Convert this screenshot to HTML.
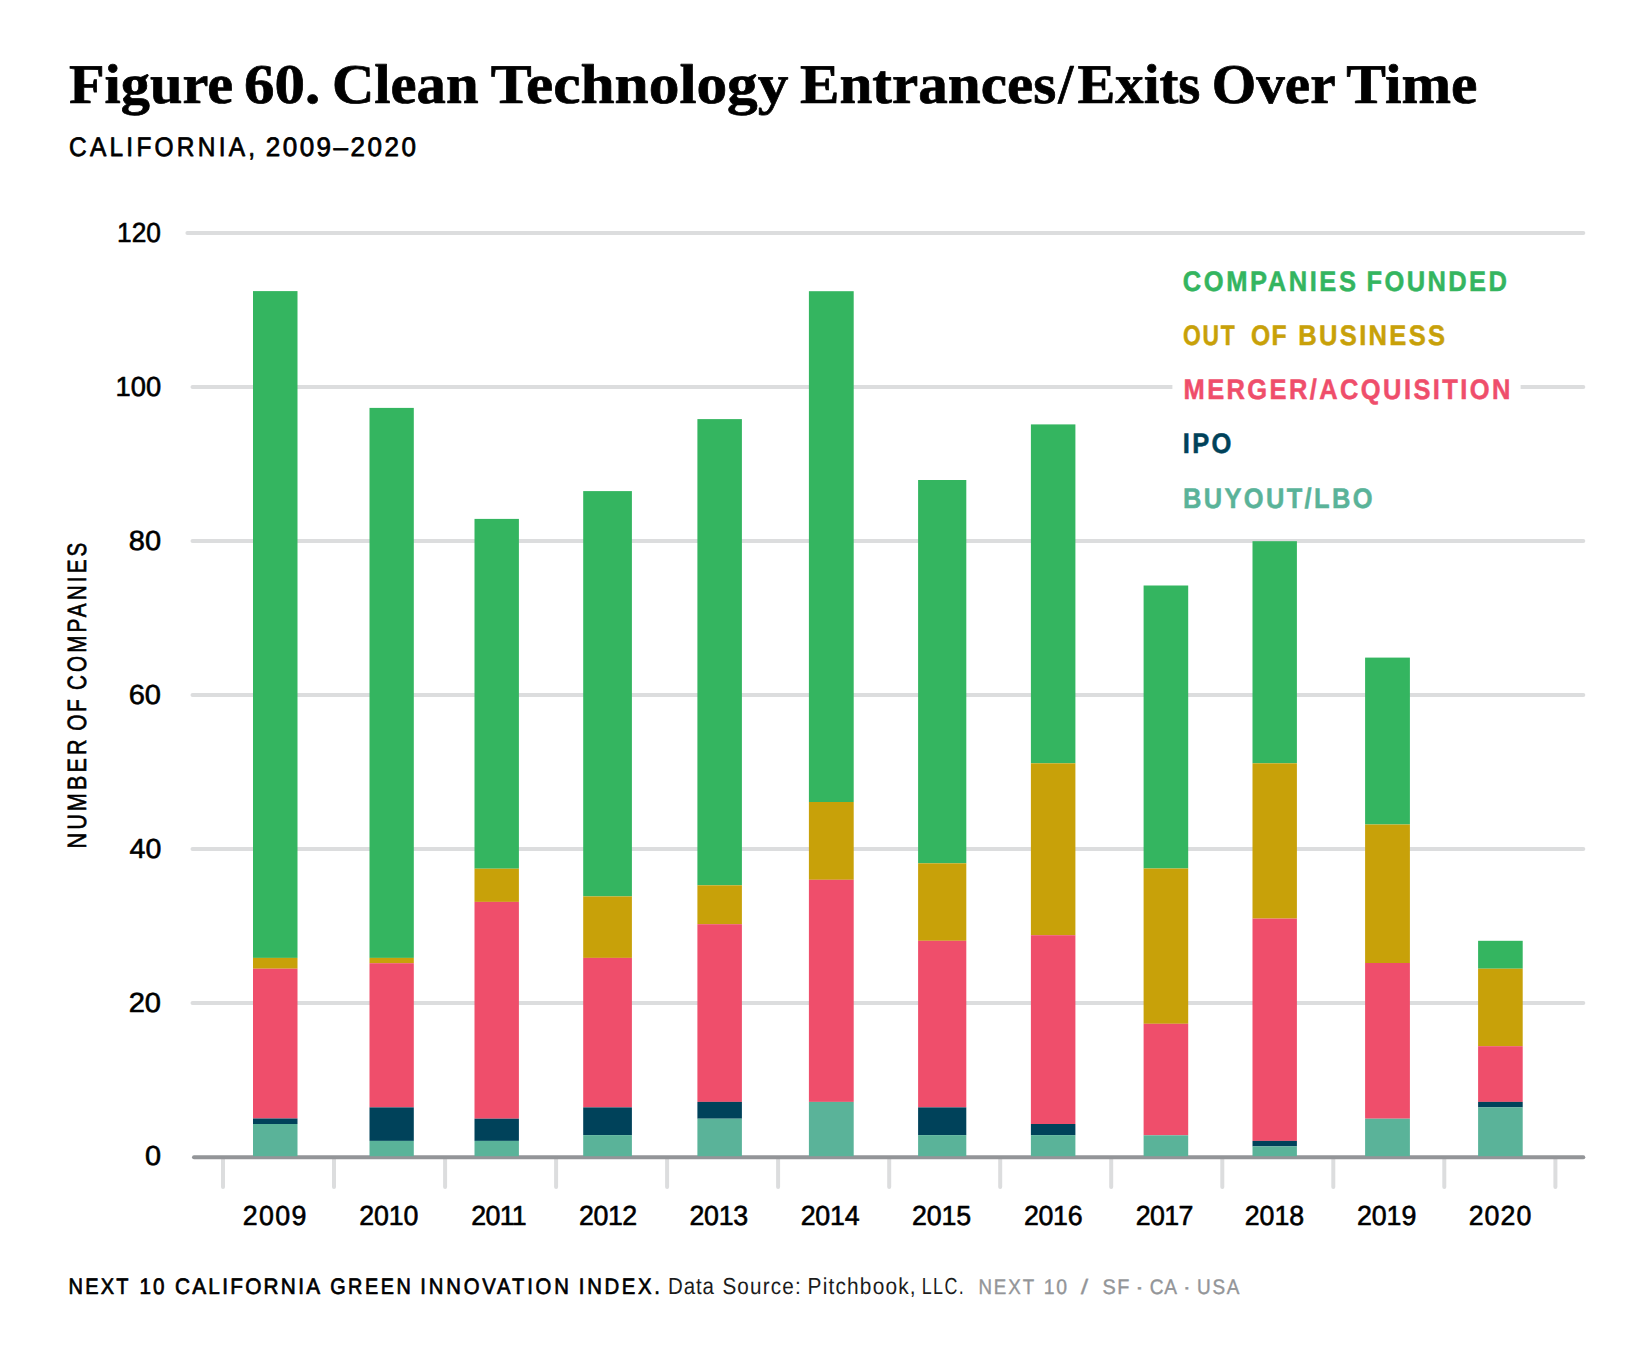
<!DOCTYPE html>
<html lang="en"><head><meta charset="utf-8"><title>Figure 60. Clean Technology Entrances/Exits Over Time</title>
<style>html,body{margin:0;padding:0;background:#fff}body{width:1651px;height:1351px;overflow:hidden}svg{display:block}text{white-space:pre;text-rendering:geometricPrecision}</style></head><body>
<svg width="1651" height="1351" viewBox="0 0 1651 1351">
<rect width="1651" height="1351" fill="#fff"/>
<g stroke="#dcddde" stroke-width="4" stroke-linecap="round" fill="none">
<line x1="187.4" y1="233.0" x2="1583.3" y2="233.0"/>
<line x1="192.5" y1="387.0" x2="1583.3" y2="387.0"/>
<line x1="192.5" y1="541.0" x2="1583.3" y2="541.0"/>
<line x1="192.5" y1="695.0" x2="1583.3" y2="695.0"/>
<line x1="192.5" y1="849.0" x2="1583.3" y2="849.0"/>
<line x1="192.5" y1="1003.0" x2="1583.3" y2="1003.0"/>
<line x1="223.0" y1="1158" x2="223.0" y2="1187"/>
<line x1="334.0" y1="1158" x2="334.0" y2="1187"/>
<line x1="445.1" y1="1158" x2="445.1" y2="1187"/>
<line x1="556.1" y1="1158" x2="556.1" y2="1187"/>
<line x1="667.1" y1="1158" x2="667.1" y2="1187"/>
<line x1="778.1" y1="1158" x2="778.1" y2="1187"/>
<line x1="889.2" y1="1158" x2="889.2" y2="1187"/>
<line x1="1000.2" y1="1158" x2="1000.2" y2="1187"/>
<line x1="1111.2" y1="1158" x2="1111.2" y2="1187"/>
<line x1="1222.3" y1="1158" x2="1222.3" y2="1187"/>
<line x1="1333.3" y1="1158" x2="1333.3" y2="1187"/>
<line x1="1444.3" y1="1158" x2="1444.3" y2="1187"/>
<line x1="1555.4" y1="1158" x2="1555.4" y2="1187"/>
</g>
<rect x="1172.4" y="380" width="348.2" height="14" fill="#fff"/>
<line x1="194" y1="1157.2" x2="1583.3" y2="1157.2" stroke="#939598" stroke-width="4" stroke-linecap="round"/>
<rect x="253.0" y="291.1" width="44.5" height="666.8" fill="#34b560"/>
<rect x="253.0" y="957.9" width="44.5" height="10.8" fill="#c8a109"/>
<rect x="253.0" y="968.7" width="44.5" height="149.8" fill="#ef4e6b"/>
<rect x="253.0" y="1118.5" width="44.5" height="5.5" fill="#00425a"/>
<rect x="253.0" y="1124.0" width="44.5" height="32.2" fill="#5ab399"/>
<rect x="369.5" y="407.9" width="44.3" height="550.0" fill="#34b560"/>
<rect x="369.5" y="957.9" width="44.3" height="5.3" fill="#c8a109"/>
<rect x="369.5" y="963.2" width="44.3" height="144.2" fill="#ef4e6b"/>
<rect x="369.5" y="1107.4" width="44.3" height="33.5" fill="#00425a"/>
<rect x="369.5" y="1140.9" width="44.3" height="15.3" fill="#5ab399"/>
<rect x="474.5" y="518.9" width="44.4" height="349.8" fill="#34b560"/>
<rect x="474.5" y="868.7" width="44.4" height="33.2" fill="#c8a109"/>
<rect x="474.5" y="901.9" width="44.4" height="216.8" fill="#ef4e6b"/>
<rect x="474.5" y="1118.7" width="44.4" height="22.2" fill="#00425a"/>
<rect x="474.5" y="1140.9" width="44.4" height="15.3" fill="#5ab399"/>
<rect x="583.2" y="491.1" width="48.7" height="405.3" fill="#34b560"/>
<rect x="583.2" y="896.4" width="48.7" height="61.5" fill="#c8a109"/>
<rect x="583.2" y="957.9" width="48.7" height="149.5" fill="#ef4e6b"/>
<rect x="583.2" y="1107.4" width="48.7" height="27.7" fill="#00425a"/>
<rect x="583.2" y="1135.1" width="48.7" height="21.1" fill="#5ab399"/>
<rect x="697.4" y="419.1" width="44.5" height="466.2" fill="#34b560"/>
<rect x="697.4" y="885.3" width="44.5" height="38.9" fill="#c8a109"/>
<rect x="697.4" y="924.2" width="44.5" height="177.7" fill="#ef4e6b"/>
<rect x="697.4" y="1101.9" width="44.5" height="16.8" fill="#00425a"/>
<rect x="697.4" y="1118.7" width="44.5" height="37.5" fill="#5ab399"/>
<rect x="808.9" y="291.2" width="44.8" height="510.8" fill="#34b560"/>
<rect x="808.9" y="802.0" width="44.8" height="77.8" fill="#c8a109"/>
<rect x="808.9" y="879.8" width="44.8" height="222.1" fill="#ef4e6b"/>
<rect x="808.9" y="1101.9" width="44.8" height="54.3" fill="#5ab399"/>
<rect x="918.1" y="480.0" width="48.2" height="383.3" fill="#34b560"/>
<rect x="918.1" y="863.3" width="48.2" height="77.5" fill="#c8a109"/>
<rect x="918.1" y="940.8" width="48.2" height="166.6" fill="#ef4e6b"/>
<rect x="918.1" y="1107.4" width="48.2" height="27.7" fill="#00425a"/>
<rect x="918.1" y="1135.1" width="48.2" height="21.1" fill="#5ab399"/>
<rect x="1030.9" y="424.4" width="44.5" height="338.9" fill="#34b560"/>
<rect x="1030.9" y="763.3" width="44.5" height="171.9" fill="#c8a109"/>
<rect x="1030.9" y="935.2" width="44.5" height="188.8" fill="#ef4e6b"/>
<rect x="1030.9" y="1124.0" width="44.5" height="11.1" fill="#00425a"/>
<rect x="1030.9" y="1135.1" width="44.5" height="21.1" fill="#5ab399"/>
<rect x="1143.6" y="585.5" width="44.6" height="283.0" fill="#34b560"/>
<rect x="1143.6" y="868.5" width="44.6" height="155.3" fill="#c8a109"/>
<rect x="1143.6" y="1023.8" width="44.6" height="111.5" fill="#ef4e6b"/>
<rect x="1143.6" y="1135.3" width="44.6" height="20.9" fill="#5ab399"/>
<rect x="1252.5" y="541.2" width="44.4" height="222.1" fill="#34b560"/>
<rect x="1252.5" y="763.3" width="44.4" height="155.3" fill="#c8a109"/>
<rect x="1252.5" y="918.6" width="44.4" height="222.3" fill="#ef4e6b"/>
<rect x="1252.5" y="1140.9" width="44.4" height="5.5" fill="#00425a"/>
<rect x="1252.5" y="1146.4" width="44.4" height="9.8" fill="#5ab399"/>
<rect x="1365.1" y="657.6" width="44.8" height="166.9" fill="#34b560"/>
<rect x="1365.1" y="824.5" width="44.8" height="138.5" fill="#c8a109"/>
<rect x="1365.1" y="963.0" width="44.8" height="155.7" fill="#ef4e6b"/>
<rect x="1365.1" y="1118.7" width="44.8" height="37.5" fill="#5ab399"/>
<rect x="1478.1" y="940.8" width="44.6" height="27.9" fill="#34b560"/>
<rect x="1478.1" y="968.7" width="44.6" height="77.5" fill="#c8a109"/>
<rect x="1478.1" y="1046.2" width="44.6" height="55.7" fill="#ef4e6b"/>
<rect x="1478.1" y="1101.9" width="44.6" height="5.5" fill="#00425a"/>
<rect x="1478.1" y="1107.4" width="44.6" height="48.8" fill="#5ab399"/>
<text id="t1" font-family='"Liberation Serif", serif' font-size="56" font-weight="bold" fill="#000" stroke="#000" stroke-width="0.7" stroke-linejoin="round" textLength="164.25" lengthAdjust="spacingAndGlyphs" transform="translate(68.89 102.60)">Figure</text>
<text id="t2" font-family='"Liberation Serif", serif' font-size="56" font-weight="bold" fill="#000" stroke="#000" stroke-width="0.7" stroke-linejoin="round" textLength="76.24" lengthAdjust="spacingAndGlyphs" transform="translate(244.11 102.60)">60.</text>
<text id="t3" font-family='"Liberation Serif", serif' font-size="56" font-weight="bold" fill="#000" stroke="#000" stroke-width="0.7" stroke-linejoin="round" textLength="146.69" lengthAdjust="spacingAndGlyphs" transform="translate(331.88 102.60)">Clean</text>
<text id="t4" font-family='"Liberation Serif", serif' font-size="56" font-weight="bold" fill="#000" stroke="#000" stroke-width="0.7" stroke-linejoin="round" textLength="297.76" lengthAdjust="spacingAndGlyphs" transform="translate(490.73 102.60)">Technology</text>
<text font-family='"Liberation Serif", serif' font-size="56" font-weight="bold" fill="#000" stroke="#000" stroke-width="0.7" stroke-linejoin="round" y="102.60"><tspan id="t5" x="800.05" textLength="256.12" lengthAdjust="spacingAndGlyphs">Entrances</tspan><tspan id="t5b" x="1058.31" textLength="15.03" lengthAdjust="spacingAndGlyphs">/</tspan><tspan id="t5c" x="1077.58" textLength="122.77" lengthAdjust="spacingAndGlyphs">Exits</tspan></text>
<text id="t6" font-family='"Liberation Serif", serif' font-size="56" font-weight="bold" fill="#000" stroke="#000" stroke-width="0.7" stroke-linejoin="round" textLength="123.90" lengthAdjust="spacingAndGlyphs" transform="translate(1211.72 102.60)">Over</text>
<text id="t7" font-family='"Liberation Serif", serif' font-size="56" font-weight="bold" fill="#000" stroke="#000" stroke-width="0.7" stroke-linejoin="round" textLength="131.09" lengthAdjust="spacingAndGlyphs" transform="translate(1346.29 102.60)">Time</text>
<text id="s1" font-family='"Liberation Sans", sans-serif' font-size="26.8" font-weight="normal" fill="#000" stroke="#000" stroke-width="0.75" stroke-linejoin="round" textLength="203.72" lengthAdjust="spacing" transform="translate(69.05 156.30) scale(0.913 1)">CALIFORNIA,</text>
<text id="s2" font-family='"Liberation Sans", sans-serif' font-size="26.8" font-weight="normal" fill="#000" stroke="#000" stroke-width="0.75" stroke-linejoin="round" textLength="154.74" lengthAdjust="spacing" transform="translate(265.69 156.30) scale(0.971 1)">2009–2020</text>
<text id="y0" font-family='"Liberation Sans", sans-serif' font-size="27.6" font-weight="normal" fill="#000" stroke="#000" stroke-width="0.6" stroke-linejoin="round" textLength="43.89" lengthAdjust="spacingAndGlyphs" transform="translate(117.12 241.90)">120</text>
<text id="y1" font-family='"Liberation Sans", sans-serif' font-size="27.6" font-weight="normal" fill="#000" stroke="#000" stroke-width="0.6" stroke-linejoin="round" textLength="45.61" lengthAdjust="spacingAndGlyphs" transform="translate(115.61 395.90)">100</text>
<text id="y2" font-family='"Liberation Sans", sans-serif' font-size="27.6" font-weight="normal" fill="#000" stroke="#000" stroke-width="0.6" stroke-linejoin="round" textLength="32.30" lengthAdjust="spacingAndGlyphs" transform="translate(128.80 549.90)">80</text>
<text id="y3" font-family='"Liberation Sans", sans-serif' font-size="27.6" font-weight="normal" fill="#000" stroke="#000" stroke-width="0.6" stroke-linejoin="round" textLength="32.31" lengthAdjust="spacingAndGlyphs" transform="translate(128.69 703.90)">60</text>
<text id="y4" font-family='"Liberation Sans", sans-serif' font-size="27.6" font-weight="normal" fill="#000" stroke="#000" stroke-width="0.6" stroke-linejoin="round" textLength="31.73" lengthAdjust="spacingAndGlyphs" transform="translate(129.54 857.90)">40</text>
<text id="y5" font-family='"Liberation Sans", sans-serif' font-size="27.6" font-weight="normal" fill="#000" stroke="#000" stroke-width="0.6" stroke-linejoin="round" textLength="32.36" lengthAdjust="spacingAndGlyphs" transform="translate(128.70 1011.90)">20</text>
<text id="y6" font-family='"Liberation Sans", sans-serif' font-size="27.6" font-weight="normal" fill="#000" stroke="#000" stroke-width="0.6" stroke-linejoin="round" textLength="16.06" lengthAdjust="spacingAndGlyphs" transform="translate(145.04 1165.40)">0</text>
<text id="x0" font-family='"Liberation Sans", sans-serif' font-size="27.6" font-weight="normal" fill="#000" stroke="#000" stroke-width="0.6" stroke-linejoin="round" textLength="65.70" lengthAdjust="spacing" transform="translate(242.70 1225.20) scale(0.970 1)">2009</text>
<text id="x1" font-family='"Liberation Sans", sans-serif' font-size="27.6" font-weight="normal" fill="#000" stroke="#000" stroke-width="0.6" stroke-linejoin="round" textLength="61.11" lengthAdjust="spacing" transform="translate(359.17 1225.20) scale(0.970 1)">2010</text>
<text id="x2" font-family='"Liberation Sans", sans-serif' font-size="27.6" font-weight="normal" fill="#000" stroke="#000" stroke-width="0.6" stroke-linejoin="round" textLength="57.12" lengthAdjust="spacing" transform="translate(471.35 1225.20) scale(0.970 1)">2011</text>
<text id="x3" font-family='"Liberation Sans", sans-serif' font-size="27.6" font-weight="normal" fill="#000" stroke="#000" stroke-width="0.6" stroke-linejoin="round" textLength="60.16" lengthAdjust="spacing" transform="translate(578.92 1225.20) scale(0.970 1)">2012</text>
<text id="x4" font-family='"Liberation Sans", sans-serif' font-size="27.6" font-weight="normal" fill="#000" stroke="#000" stroke-width="0.6" stroke-linejoin="round" textLength="60.66" lengthAdjust="spacing" transform="translate(689.42 1225.20) scale(0.970 1)">2013</text>
<text id="x5" font-family='"Liberation Sans", sans-serif' font-size="27.6" font-weight="normal" fill="#000" stroke="#000" stroke-width="0.6" stroke-linejoin="round" textLength="60.76" lengthAdjust="spacing" transform="translate(800.70 1225.20) scale(0.970 1)">2014</text>
<text id="x6" font-family='"Liberation Sans", sans-serif' font-size="27.6" font-weight="normal" fill="#000" stroke="#000" stroke-width="0.6" stroke-linejoin="round" textLength="61.14" lengthAdjust="spacing" transform="translate(911.92 1225.20) scale(0.970 1)">2015</text>
<text id="x7" font-family='"Liberation Sans", sans-serif' font-size="27.6" font-weight="normal" fill="#000" stroke="#000" stroke-width="0.6" stroke-linejoin="round" textLength="60.48" lengthAdjust="spacing" transform="translate(1023.92 1225.20) scale(0.970 1)">2016</text>
<text id="x8" font-family='"Liberation Sans", sans-serif' font-size="27.6" font-weight="normal" fill="#000" stroke="#000" stroke-width="0.6" stroke-linejoin="round" textLength="59.45" lengthAdjust="spacing" transform="translate(1135.70 1225.20) scale(0.970 1)">2017</text>
<text id="x9" font-family='"Liberation Sans", sans-serif' font-size="27.6" font-weight="normal" fill="#000" stroke="#000" stroke-width="0.6" stroke-linejoin="round" textLength="61.47" lengthAdjust="spacing" transform="translate(1244.63 1225.20) scale(0.970 1)">2018</text>
<text id="x10" font-family='"Liberation Sans", sans-serif' font-size="27.6" font-weight="normal" fill="#000" stroke="#000" stroke-width="0.6" stroke-linejoin="round" textLength="61.17" lengthAdjust="spacing" transform="translate(1356.98 1225.20) scale(0.970 1)">2019</text>
<text id="x11" font-family='"Liberation Sans", sans-serif' font-size="27.6" font-weight="normal" fill="#000" stroke="#000" stroke-width="0.6" stroke-linejoin="round" textLength="64.61" lengthAdjust="spacing" transform="translate(1468.63 1225.20) scale(0.970 1)">2020</text>
<text id="l1a" font-family='"Liberation Sans", sans-serif' font-size="28.3" font-weight="bold" fill="#34b560" stroke="#34b560" stroke-width="0.5" stroke-linejoin="round" textLength="192.14" lengthAdjust="spacing" transform="translate(1182.83 290.80) scale(0.901 1)">COMPANIES</text>
<text id="l1b" font-family='"Liberation Sans", sans-serif' font-size="28.3" font-weight="bold" fill="#34b560" stroke="#34b560" stroke-width="0.5" stroke-linejoin="round" textLength="155.91" lengthAdjust="spacing" transform="translate(1366.56 290.80) scale(0.900 1)">FOUNDED</text>
<text id="l2a" font-family='"Liberation Sans", sans-serif' font-size="28.3" font-weight="bold" fill="#c8a109" stroke="#c8a109" stroke-width="0.5" stroke-linejoin="round" textLength="63.98" lengthAdjust="spacing" transform="translate(1183.05 345.10) scale(0.807 1)">OUT</text>
<text id="l2b" font-family='"Liberation Sans", sans-serif' font-size="28.3" font-weight="bold" fill="#c8a109" stroke="#c8a109" stroke-width="0.5" stroke-linejoin="round" textLength="40.88" lengthAdjust="spacing" transform="translate(1250.96 345.10) scale(0.872 1)">OF</text>
<text id="l2c" font-family='"Liberation Sans", sans-serif' font-size="28.3" font-weight="bold" fill="#c8a109" stroke="#c8a109" stroke-width="0.5" stroke-linejoin="round" textLength="162.74" lengthAdjust="spacing" transform="translate(1298.30 345.10) scale(0.902 1)">BUSINESS</text>
<text id="l3" font-family='"Liberation Sans", sans-serif' font-size="28.3" font-weight="bold" fill="#ef4e6b" stroke="#ef4e6b" stroke-width="0.5" stroke-linejoin="round" textLength="363.17" lengthAdjust="spacing" transform="translate(1183.52 399.30) scale(0.900 1)">MERGER/ACQUISITION</text>
<text id="l4" font-family='"Liberation Sans", sans-serif' font-size="28.3" font-weight="bold" fill="#00425a" stroke="#00425a" stroke-width="0.5" stroke-linejoin="round" textLength="53.72" lengthAdjust="spacing" transform="translate(1182.84 453.40) scale(0.902 1)">IPO</text>
<text id="l5" font-family='"Liberation Sans", sans-serif' font-size="28.3" font-weight="bold" fill="#5ab399" stroke="#5ab399" stroke-width="0.5" stroke-linejoin="round" textLength="210.80" lengthAdjust="spacing" transform="translate(1182.94 507.60) scale(0.899 1)">BUYOUT/LBO</text>
<text id="r1" font-family='"Liberation Sans", sans-serif' font-size="26.5" font-weight="normal" fill="#000" stroke="#000" stroke-width="0.65" stroke-linejoin="round" textLength="133.67" lengthAdjust="spacing" transform="translate(86.20 848.55) rotate(-90) scale(0.816 1)">NUMBER</text>
<text id="r2" font-family='"Liberation Sans", sans-serif' font-size="26.5" font-weight="normal" fill="#000" stroke="#000" stroke-width="0.65" stroke-linejoin="round" textLength="39.71" lengthAdjust="spacing" transform="translate(86.20 730.63) rotate(-90) scale(0.791 1)">OF</text>
<text id="r3" font-family='"Liberation Sans", sans-serif' font-size="26.5" font-weight="normal" fill="#000" stroke="#000" stroke-width="0.65" stroke-linejoin="round" textLength="189.15" lengthAdjust="spacing" transform="translate(86.20 690.12) rotate(-90) scale(0.780 1)">COMPANIES</text>
<text id="f1" font-family='"Liberation Sans", sans-serif' font-size="22.4" font-weight="normal" fill="#000" stroke="#000" stroke-width="0.7" stroke-linejoin="round" textLength="67.16" lengthAdjust="spacing" transform="translate(68.52 1294.40) scale(0.894 1)">NEXT</text>
<text id="f2" font-family='"Liberation Sans", sans-serif' font-size="22.4" font-weight="normal" fill="#000" stroke="#000" stroke-width="0.7" stroke-linejoin="round" textLength="27.18" lengthAdjust="spacing" transform="translate(139.55 1294.40) scale(0.922 1)">10</text>
<text id="f3" font-family='"Liberation Sans", sans-serif' font-size="22.4" font-weight="normal" fill="#000" stroke="#000" stroke-width="0.7" stroke-linejoin="round" textLength="156.31" lengthAdjust="spacing" transform="translate(174.99 1294.40) scale(0.928 1)">CALIFORNIA</text>
<text id="f4" font-family='"Liberation Sans", sans-serif' font-size="22.4" font-weight="normal" fill="#000" stroke="#000" stroke-width="0.7" stroke-linejoin="round" textLength="90.94" lengthAdjust="spacing" transform="translate(330.17 1294.40) scale(0.886 1)">GREEN</text>
<text id="f5" font-family='"Liberation Sans", sans-serif' font-size="22.4" font-weight="normal" fill="#000" stroke="#000" stroke-width="0.7" stroke-linejoin="round" textLength="164.07" lengthAdjust="spacing" transform="translate(420.34 1294.40) scale(0.905 1)">INNOVATION</text>
<text id="f6" font-family='"Liberation Sans", sans-serif' font-size="22.4" font-weight="normal" fill="#000" stroke="#000" stroke-width="0.7" stroke-linejoin="round" textLength="89.32" lengthAdjust="spacing" transform="translate(578.83 1294.40) scale(0.908 1)">INDEX.</text>
<text id="f7" font-family='"Liberation Sans", sans-serif' font-size="23.2" font-weight="normal" fill="#1c1c1c" textLength="52.05" lengthAdjust="spacing" transform="translate(668.06 1294.40) scale(0.883 1)">Data</text>
<text id="f8" font-family='"Liberation Sans", sans-serif' font-size="23.2" font-weight="normal" fill="#1c1c1c" textLength="87.72" lengthAdjust="spacing" transform="translate(722.40 1294.40) scale(0.894 1)">Source:</text>
<text id="f9" font-family='"Liberation Sans", sans-serif' font-size="23.2" font-weight="normal" fill="#1c1c1c" textLength="120.00" lengthAdjust="spacing" transform="translate(807.54 1294.40) scale(0.901 1)">Pitchbook,</text>
<text id="f10" font-family='"Liberation Sans", sans-serif' font-size="23.2" font-weight="normal" fill="#1c1c1c" textLength="54.63" lengthAdjust="spacing" transform="translate(921.71 1294.40) scale(0.771 1)">LLC.</text>
<text id="g1" font-family='"Liberation Sans", sans-serif' font-size="21" font-weight="normal" fill="#939598" stroke="#939598" stroke-width="0.4" stroke-linejoin="round" textLength="62.35" lengthAdjust="spacing" transform="translate(978.46 1294.40) scale(0.892 1)">NEXT</text>
<text id="g2" font-family='"Liberation Sans", sans-serif' font-size="21" font-weight="normal" fill="#939598" stroke="#939598" stroke-width="0.4" stroke-linejoin="round" textLength="25.30" lengthAdjust="spacing" transform="translate(1043.72 1294.40) scale(0.922 1)">10</text>
<text id="g3" font-family='"Liberation Sans", sans-serif' font-size="21" font-weight="normal" fill="#939598" stroke="#939598" stroke-width="0.3" stroke-linejoin="round" textLength="7.48" lengthAdjust="spacingAndGlyphs" transform="translate(1080.79 1294.40)">/</text>
<text id="g4" font-family='"Liberation Sans", sans-serif' font-size="21" font-weight="normal" fill="#939598" stroke="#939598" stroke-width="0.4" stroke-linejoin="round" textLength="28.35" lengthAdjust="spacing" transform="translate(1102.45 1294.40) scale(0.946 1)">SF</text>
<text id="g5" font-family='"Liberation Sans", sans-serif' font-size="21" font-weight="normal" fill="#939598" stroke="#939598" stroke-width="0.3" stroke-linejoin="round" textLength="9.89" lengthAdjust="spacingAndGlyphs" transform="translate(1134.53 1294.40)">·</text>
<text id="g6" font-family='"Liberation Sans", sans-serif' font-size="21" font-weight="normal" fill="#939598" stroke="#939598" stroke-width="0.4" stroke-linejoin="round" textLength="30.07" lengthAdjust="spacing" transform="translate(1149.70 1294.40) scale(0.909 1)">CA</text>
<text id="g7" font-family='"Liberation Sans", sans-serif' font-size="21" font-weight="normal" fill="#939598" stroke="#939598" stroke-width="0.3" stroke-linejoin="round" textLength="8.63" lengthAdjust="spacingAndGlyphs" transform="translate(1182.44 1294.40)">·</text>
<text id="g8" font-family='"Liberation Sans", sans-serif' font-size="21" font-weight="normal" fill="#939598" stroke="#939598" stroke-width="0.4" stroke-linejoin="round" textLength="46.94" lengthAdjust="spacing" transform="translate(1197.12 1294.40) scale(0.901 1)">USA</text>
</svg></body></html>
